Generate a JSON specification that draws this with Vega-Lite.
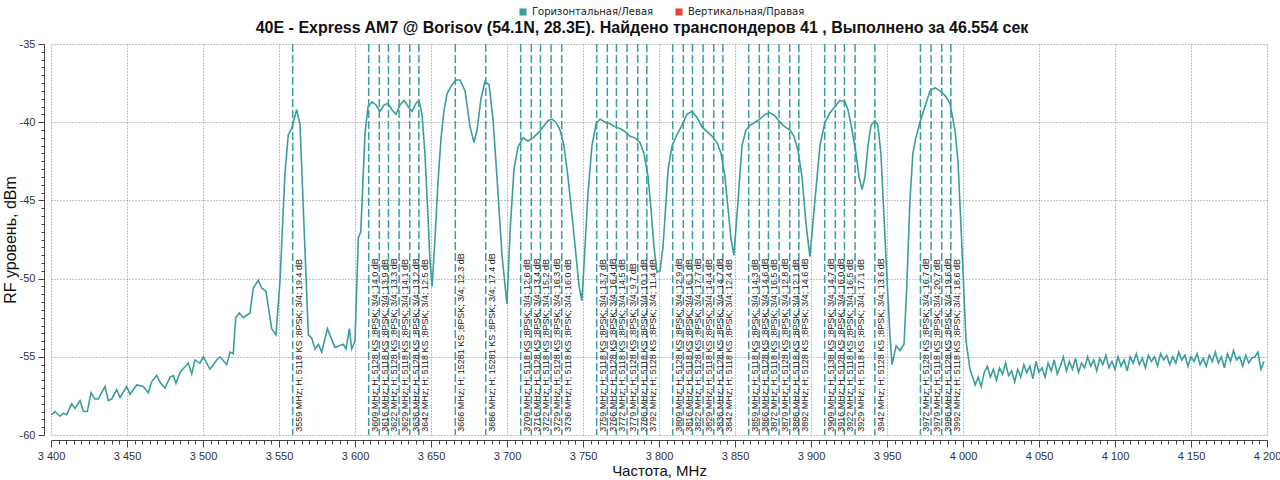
{
  "$schema": "https://vega.github.io/schema/vega-lite/v6.json",
  "width": 1216,
  "height": 391,
  "autosize": {"type": "none"},
  "padding": {"left": 51, "top": 44, "right": 13, "bottom": 45},
  "background": "white",
  "config": {"view": {"stroke": null}},
  "title": {
    "text": "40E - Express AM7 @ Borisov (54.1N, 28.3E). Найдено транспондеров 41 , Выполнено за 46.554 сек",
    "font": "Liberation Sans",
    "fontSize": 16,
    "fontWeight": "bold",
    "color": "#111111",
    "anchor": "middle",
    "baseline": "alphabetic",
    "offset": -42,
    "dx": -17
  },
  "datasets": {
    "spec": [
      {"f":3400.4,"v":-58.7},{"f":3402.6,"v":-58.5},{"f":3405.9,"v":-58.8},{"f":3408.1,"v":-58.6},{"f":3410.3,"v":-58.7},
      {"f":3413.6,"v":-58.0},{"f":3415.8,"v":-58.3},{"f":3419.1,"v":-57.8},{"f":3421.3,"v":-58.5},{"f":3423.9,"v":-58.5},
      {"f":3426.3,"v":-57.3},{"f":3428.9,"v":-57.7},{"f":3431.1,"v":-57.7},{"f":3435.5,"v":-56.9},{"f":3437.7,"v":-57.8},
      {"f":3439.9,"v":-57.7},{"f":3443.2,"v":-57.1},{"f":3445.4,"v":-57.6},{"f":3449.8,"v":-56.9},{"f":3452.0,"v":-57.4},
      {"f":3456.4,"v":-56.8},{"f":3460.7,"v":-56.9},{"f":3464.0,"v":-57.3},{"f":3466.2,"v":-56.6},{"f":3469.5,"v":-56.2},
      {"f":3472.2,"v":-56.7},{"f":3475.0,"v":-57.0},{"f":3478.3,"v":-56.3},{"f":3480.5,"v":-56.2},{"f":3482.2,"v":-56.7},
      {"f":3484.9,"v":-56.0},{"f":3490.3,"v":-55.4},{"f":3492.6,"v":-56.1},{"f":3494.7,"v":-55.2},{"f":3498.0,"v":-55.4},
      {"f":3500.2,"v":-55.0},{"f":3504.6,"v":-55.8},{"f":3509.0,"v":-55.2},{"f":3511.2,"v":-55.0},{"f":3515.6,"v":-55.5},
      {"f":3517.8,"v":-54.7},{"f":3519.9,"v":-54.8},{"f":3521.5,"v":-52.5},{"f":3523.9,"v":-52.2},{"f":3526.5,"v":-52.5},
      {"f":3530.9,"v":-52.2},{"f":3533.1,"v":-50.6},{"f":3536.4,"v":-50.1},{"f":3538.6,"v":-50.6},{"f":3541.4,"v":-50.8},
      {"f":3545.2,"v":-53.2},{"f":3548.0,"v":-53.6},{"f":3550.7,"v":-50.1},{"f":3553.9,"v":-43.3},{"f":3556.1,"v":-40.8},
      {"f":3558.3,"v":-40.4},{"f":3561.6,"v":-39.2},{"f":3563.8,"v":-40.1},{"f":3569.3,"v":-53.6},{"f":3571.5,"v":-53.8},
      {"f":3573.7,"v":-54.5},{"f":3575.9,"v":-54.2},{"f":3578.1,"v":-54.7},{"f":3581.8,"v":-53.2},{"f":3586.8,"v":-54.4},
      {"f":3592.3,"v":-54.2},{"f":3594.1,"v":-54.5},{"f":3596.3,"v":-53.2},{"f":3597.8,"v":-54.5},{"f":3600.0,"v":-54.0},
      {"f":3602.2,"v":-47.4},{"f":3603.8,"v":-47.0},{"f":3606.6,"v":-40.7},{"f":3608.6,"v":-39.0},{"f":3611.2,"v":-38.7},
      {"f":3613.8,"v":-38.9},{"f":3616.4,"v":-39.3},{"f":3619.1,"v":-38.9},{"f":3621.7,"v":-38.8},{"f":3624.3,"v":-39.2},
      {"f":3627.0,"v":-39.5},{"f":3629.6,"v":-38.9},{"f":3632.2,"v":-38.6},{"f":3634.9,"v":-39.0},{"f":3637.5,"v":-39.3},
      {"f":3640.1,"v":-38.8},{"f":3642.1,"v":-38.6},{"f":3644.1,"v":-39.5},{"f":3646.0,"v":-42.0},{"f":3648.0,"v":-46.0},
      {"f":3649.3,"v":-48.8},{"f":3650.7,"v":-50.5},{"f":3652.6,"v":-47.5},{"f":3654.5,"v":-44.0},{"f":3656.6,"v":-41.0},
      {"f":3658.5,"v":-39.3},{"f":3660.5,"v":-38.2},{"f":3663.8,"v":-37.6},{"f":3666.4,"v":-37.3},{"f":3669.1,"v":-37.3},
      {"f":3672.4,"v":-38.0},{"f":3675.7,"v":-40.3},{"f":3678.3,"v":-41.3},{"f":3680.3,"v":-40.5},{"f":3682.9,"v":-38.5},
      {"f":3685.5,"v":-37.4},{"f":3688.2,"v":-37.6},{"f":3690.8,"v":-39.8},{"f":3693.4,"v":-43.5},{"f":3696.7,"v":-48.5},
      {"f":3699.3,"v":-51.0},{"f":3700.0,"v":-51.6},{"f":3702.0,"v":-47.0},{"f":3704.6,"v":-43.0},{"f":3707.2,"v":-41.6},
      {"f":3710.5,"v":-41.0},{"f":3713.8,"v":-41.2},{"f":3717.1,"v":-41.0},{"f":3720.4,"v":-40.7},{"f":3723.7,"v":-40.3},
      {"f":3727.0,"v":-39.9},{"f":3729.6,"v":-39.8},{"f":3732.2,"v":-40.0},{"f":3734.9,"v":-40.5},{"f":3737.5,"v":-41.5},
      {"f":3740.1,"v":-43.5},{"f":3742.8,"v":-46.0},{"f":3745.4,"v":-48.5},{"f":3747.4,"v":-50.5},{"f":3749.3,"v":-51.4},
      {"f":3751.3,"v":-48.0},{"f":3753.3,"v":-44.5},{"f":3755.9,"v":-41.5},{"f":3758.6,"v":-40.1},{"f":3761.2,"v":-39.8},
      {"f":3764.5,"v":-40.0},{"f":3767.8,"v":-40.1},{"f":3771.1,"v":-40.3},{"f":3774.3,"v":-40.4},{"f":3777.6,"v":-40.6},
      {"f":3780.9,"v":-40.9},{"f":3784.2,"v":-41.0},{"f":3787.5,"v":-41.3},{"f":3790.1,"v":-42.0},{"f":3792.8,"v":-43.5},
      {"f":3794.7,"v":-45.5},{"f":3796.7,"v":-48.0},{"f":3798.7,"v":-49.6},{"f":3800.7,"v":-49.5},{"f":3802.6,"v":-48.0},
      {"f":3804.0,"v":-46.0},{"f":3806.0,"v":-43.0},{"f":3808.6,"v":-41.5},{"f":3811.8,"v":-40.8},{"f":3815.1,"v":-40.2},
      {"f":3818.4,"v":-39.5},{"f":3821.7,"v":-39.3},{"f":3825.0,"v":-39.7},{"f":3828.3,"v":-40.3},{"f":3831.6,"v":-40.6},
      {"f":3834.9,"v":-40.9},{"f":3838.2,"v":-41.3},{"f":3840.8,"v":-42.0},{"f":3843.4,"v":-43.5},{"f":3845.4,"v":-45.5},
      {"f":3847.4,"v":-47.5},{"f":3849.3,"v":-48.5},{"f":3852.0,"v":-45.0},{"f":3854.6,"v":-41.5},{"f":3857.2,"v":-40.5},
      {"f":3859.9,"v":-40.2},{"f":3863.2,"v":-40.0},{"f":3866.4,"v":-39.8},{"f":3869.7,"v":-39.5},{"f":3873.0,"v":-39.4},
      {"f":3876.3,"v":-39.6},{"f":3879.6,"v":-40.0},{"f":3882.9,"v":-40.3},{"f":3886.2,"v":-40.5},{"f":3888.8,"v":-40.9},
      {"f":3891.4,"v":-41.8},{"f":3894.1,"v":-43.5},{"f":3896.7,"v":-46.5},{"f":3899.3,"v":-48.6},{"f":3902.6,"v":-45.0},
      {"f":3905.9,"v":-41.5},{"f":3909.2,"v":-40.0},{"f":3912.5,"v":-39.4},{"f":3915.8,"v":-39.0},{"f":3919.0,"v":-38.6},
      {"f":3922.4,"v":-38.7},{"f":3924.3,"v":-39.2},{"f":3927.0,"v":-40.5},{"f":3929.6,"v":-42.0},{"f":3931.6,"v":-43.5},
      {"f":3933.6,"v":-44.3},{"f":3935.5,"v":-43.5},{"f":3937.5,"v":-41.5},{"f":3939.5,"v":-40.2},{"f":3942.1,"v":-39.9},
      {"f":3944.0,"v":-40.2},{"f":3946.0,"v":-42.0},{"f":3948.0,"v":-46.0},{"f":3950.0,"v":-50.0},{"f":3951.9,"v":-53.5},
      {"f":3953.3,"v":-55.5},{"f":3956.0,"v":-54.3},{"f":3958.5,"v":-54.6},{"f":3961.2,"v":-54.2},{"f":3963.0,"v":-50.5},
      {"f":3965.1,"v":-45.0},{"f":3967.0,"v":-42.0},{"f":3969.0,"v":-41.0},{"f":3971.7,"v":-40.0},{"f":3975.0,"v":-39.0},
      {"f":3978.3,"v":-38.0},{"f":3981.6,"v":-37.8},{"f":3984.9,"v":-38.0},{"f":3988.2,"v":-38.3},{"f":3991.4,"v":-38.8},
      {"f":3994.7,"v":-40.5},{"f":3996.7,"v":-42.5},{"f":3999.3,"v":-48.0},{"f":4002.0,"v":-54.0},{"f":4004.6,"v":-55.8},
      {"f":4006,"v":-56.2},{"f":4008,"v":-56.8},{"f":4010,"v":-56.3},{"f":4012,"v":-56.9},{"f":4014,"v":-56.0},
      {"f":4016,"v":-55.6},{"f":4018,"v":-56.3},{"f":4020,"v":-55.8},{"f":4022,"v":-56.5},{"f":4024,"v":-55.7},
      {"f":4026,"v":-56.1},{"f":4028,"v":-55.4},{"f":4030,"v":-56.2},{"f":4032,"v":-55.9},{"f":4034,"v":-56.6},
      {"f":4036,"v":-55.8},{"f":4038,"v":-56.3},{"f":4040,"v":-55.5},{"f":4042,"v":-56.0},{"f":4044,"v":-55.6},
      {"f":4046,"v":-56.4},{"f":4048,"v":-55.3},{"f":4050,"v":-56.0},{"f":4052,"v":-55.7},{"f":4054,"v":-56.3},
      {"f":4056,"v":-55.4},{"f":4058,"v":-55.9},{"f":4060,"v":-55.2},{"f":4062,"v":-56.1},{"f":4064,"v":-55.6},
      {"f":4066,"v":-55.0},{"f":4068,"v":-55.9},{"f":4070,"v":-55.3},{"f":4072,"v":-55.8},{"f":4074,"v":-55.1},
      {"f":4076,"v":-56.0},{"f":4078,"v":-55.4},{"f":4080,"v":-55.7},{"f":4082,"v":-55.0},{"f":4084,"v":-55.6},
      {"f":4086,"v":-55.2},{"f":4088,"v":-55.9},{"f":4090,"v":-55.1},{"f":4092,"v":-55.5},{"f":4094,"v":-54.9},
      {"f":4096,"v":-55.7},{"f":4098,"v":-55.3},{"f":4100,"v":-55.8},{"f":4102,"v":-55.0},{"f":4104,"v":-55.6},
      {"f":4106,"v":-55.2},{"f":4108,"v":-55.9},{"f":4110,"v":-55.0},{"f":4112,"v":-55.4},{"f":4114,"v":-54.8},
      {"f":4116,"v":-55.5},{"f":4118,"v":-55.1},{"f":4120,"v":-55.7},{"f":4122,"v":-54.9},{"f":4124,"v":-55.3},
      {"f":4126,"v":-55.0},{"f":4128,"v":-55.6},{"f":4130,"v":-54.8},{"f":4132,"v":-55.2},{"f":4134,"v":-54.9},
      {"f":4136,"v":-55.5},{"f":4138,"v":-55.0},{"f":4140,"v":-55.4},{"f":4142,"v":-54.7},{"f":4144,"v":-55.2},
      {"f":4146,"v":-54.9},{"f":4148,"v":-55.6},{"f":4150,"v":-55.0},{"f":4152,"v":-55.3},{"f":4154,"v":-54.8},
      {"f":4156,"v":-55.5},{"f":4158,"v":-55.1},{"f":4160,"v":-55.6},{"f":4162,"v":-54.9},{"f":4164,"v":-55.3},
      {"f":4166,"v":-54.7},{"f":4168,"v":-55.4},{"f":4170,"v":-55.0},{"f":4172,"v":-55.7},{"f":4174,"v":-54.8},
      {"f":4176,"v":-55.3},{"f":4178,"v":-54.6},{"f":4180,"v":-55.2},{"f":4182,"v":-55.0},{"f":4184,"v":-55.6},
      {"f":4186,"v":-54.9},{"f":4188,"v":-55.4},{"f":4190,"v":-55.1},{"f":4192,"v":-55.0},{"f":4194,"v":-54.7},
      {"f":4196,"v":-55.8},{"f":4198,"v":-55.3}
    ],
    "tp": [
      {"f":3559,"label":"3559 MHz; H; 5118 KS ;8PSK; 3/4; 19.4 dB"},
      {"f":3609,"label":"3609 MHz; H; 5128 KS ;8PSK; 3/4; 14.0 dB"},
      {"f":3616,"label":"3616 MHz; H; 5118 KS ;8PSK; 3/4; 13.9 dB"},
      {"f":3622,"label":"3622 MHz; H; 5128 KS ;8PSK; 3/4; 13.3 dB"},
      {"f":3629,"label":"3629 MHz; H; 5118 KS ;8PSK; 3/4; 14.1 dB"},
      {"f":3636,"label":"3636 MHz; H; 5128 KS ;8PSK; 3/4; 13.2 dB"},
      {"f":3642,"label":"3642 MHz; H; 5118 KS ;8PSK; 3/4; 12.5 dB"},
      {"f":3666,"label":"3666 MHz; H; 15281 KS ;8PSK; 3/4; 12.3 dB"},
      {"f":3686,"label":"3686 MHz; H; 15281 KS ;8PSK; 3/4; 17.4 dB"},
      {"f":3709,"label":"3709 MHz; H; 5118 KS ;8PSK; 3/4; 12.6 dB"},
      {"f":3716,"label":"3716 MHz; H; 5128 KS ;8PSK; 3/4; 13.4 dB"},
      {"f":3722,"label":"3722 MHz; H; 5118 KS ;8PSK; 3/4; 15.2 dB"},
      {"f":3729,"label":"3729 MHz; H; 5128 KS ;8PSK; 3/4; 16.3 dB"},
      {"f":3736,"label":"3736 MHz; H; 5118 KS ;8PSK; 3/4; 16.0 dB"},
      {"f":3759,"label":"3759 MHz; H; 5118 KS ;8PSK; 3/4; 13.7 dB"},
      {"f":3766,"label":"3766 MHz; H; 5128 KS ;8PSK; 3/4; 16.4 dB"},
      {"f":3772,"label":"3772 MHz; H; 5118 KS ;8PSK; 3/4; 14.5 dB"},
      {"f":3779,"label":"3779 MHz; H; 5128 KS ;8PSK; 3/4; 9.7 dB"},
      {"f":3786,"label":"3786 MHz; H; 5118 KS ;8PSK; 3/4; 10.1 dB"},
      {"f":3792,"label":"3792 MHz; H; 5128 KS ;8PSK; 3/4; 11.4 dB"},
      {"f":3809,"label":"3809 MHz; H; 5128 KS ;8PSK; 3/4; 12.9 dB"},
      {"f":3816,"label":"3816 MHz; H; 5118 KS ;8PSK; 3/4; 16.1 dB"},
      {"f":3822,"label":"3822 MHz; H; 5128 KS ;8PSK; 3/4; 17.7 dB"},
      {"f":3829,"label":"3829 MHz; H; 5118 KS ;8PSK; 3/4; 14.4 dB"},
      {"f":3836,"label":"3836 MHz; H; 5128 KS ;8PSK; 3/4; 14.7 dB"},
      {"f":3842,"label":"3842 MHz; H; 5118 KS ;8PSK; 3/4; 12.4 dB"},
      {"f":3859,"label":"3859 MHz; H; 5118 KS ;8PSK; 3/4; 14.3 dB"},
      {"f":3866,"label":"3866 MHz; H; 5128 KS ;8PSK; 3/4; 14.6 dB"},
      {"f":3872,"label":"3872 MHz; H; 5118 KS ;8PSK; 3/4; 16.5 dB"},
      {"f":3879,"label":"3879 MHz; H; 5128 KS ;8PSK; 3/4; 12.8 dB"},
      {"f":3886,"label":"3886 MHz; H; 5118 KS ;8PSK; 3/4; 12.1 dB"},
      {"f":3892,"label":"3892 MHz; H; 5128 KS ;8PSK; 3/4; 14.6 dB"},
      {"f":3909,"label":"3909 MHz; H; 5138 KS ;8PSK; 3/4; 14.7 dB"},
      {"f":3916,"label":"3916 MHz; H; 5128 KS ;8PSK; 3/4; 16.0 dB"},
      {"f":3922,"label":"3922 MHz; H; 5118 KS ;8PSK; 3/4; 16.5 dB"},
      {"f":3929,"label":"3929 MHz; H; 5118 KS ;8PSK; 3/4; 17.1 dB"},
      {"f":3942,"label":"3942 MHz; H; 5128 KS ;8PSK; 3/4; 13.6 dB"},
      {"f":3972,"label":"3972 MHz; H; 5128 KS ;8PSK; 3/4; 16.7 dB"},
      {"f":3979,"label":"3979 MHz; H; 5118 KS ;8PSK; 3/4; 20.7 dB"},
      {"f":3986,"label":"3986 MHz; H; 5128 KS ;8PSK; 3/4; 19.6 dB"},
      {"f":3992,"label":"3992 MHz; H; 5118 KS ;8PSK; 3/4; 18.6 dB"}
    ]
  },
  "layer": [
    {
      "data": {"name": "tp"},
      "mark": {"type": "rule", "color": "#3a9e9a", "strokeWidth": 1.5, "strokeDash": [8, 3]},
      "encoding": {
        "x": {"field": "f", "type": "quantitative"}
      }
    },
    {
      "data": {"name": "tp"},
      "mark": {"type": "text", "angle": 270, "align": "left", "baseline": "middle", "dy": 6, "font": "Liberation Sans", "fontSize": 9, "color": "#222222"},
      "encoding": {
        "x": {"field": "f", "type": "quantitative"},
        "y": {"datum": -59.8, "type": "quantitative"},
        "text": {"field": "label"}
      }
    },
    {
      "data": {"name": "spec"},
      "mark": {"type": "line", "strokeWidth": 1.6, "clip": true},
      "encoding": {
        "x": {
          "field": "f", "type": "quantitative",
          "scale": {"domain": [3400, 4200], "nice": false, "zero": false},
          "axis": {
            "title": "Частота, MHz",
            "titleFont": "Liberation Sans", "titleFontSize": 15, "titleFontWeight": "normal", "titleColor": "#111111",
            "titlePadding": 2,
            "offset": 5,
            "tickCount": 1000,
            "values": [3400,3405,3410,3415,3420,3425,3430,3435,3440,3445,3450,3455,3460,3465,3470,3475,3480,3485,3490,3495,3500,3505,3510,3515,3520,3525,3530,3535,3540,3545,3550,3555,3560,3565,3570,3575,3580,3585,3590,3595,3600,3605,3610,3615,3620,3625,3630,3635,3640,3645,3650,3655,3660,3665,3670,3675,3680,3685,3690,3695,3700,3705,3710,3715,3720,3725,3730,3735,3740,3745,3750,3755,3760,3765,3770,3775,3780,3785,3790,3795,3800,3805,3810,3815,3820,3825,3830,3835,3840,3845,3850,3855,3860,3865,3870,3875,3880,3885,3890,3895,3900,3905,3910,3915,3920,3925,3930,3935,3940,3945,3950,3955,3960,3965,3970,3975,3980,3985,3990,3995,4000,4005,4010,4015,4020,4025,4030,4035,4040,4045,4050,4055,4060,4065,4070,4075,4080,4085,4090,4095,4100,4105,4110,4115,4120,4125,4130,4135,4140,4145,4150,4155,4160,4165,4170,4175,4180,4185,4190,4195,4200],
            "labelExpr": "datum.value % 50 === 0 ? replace(format(datum.value, ','), ',', ' ') : ''",
            "labelOverlap": false, "labelFlush": false, "labelBound": false,
            "labelFont": "Liberation Sans", "labelFontSize": 11, "labelColor": "#333333", "labelPadding": 3,
            "tickSize": {"condition": {"test": "datum.value % 50 === 0", "value": 7}, "value": 4},
            "tickColor": "#444444", "domainColor": "#444444",
            "grid": true,
            "gridColor": "#888888", "gridDash": [1, 2],
            "gridOpacity": {"condition": {"test": "datum.value % 50 === 0", "value": 1}, "value": 0}
          }
        },
        "y": {
          "field": "v", "type": "quantitative",
          "scale": {"domain": [-60, -35], "nice": false, "zero": false},
          "axis": {
            "title": "RF уровень, dBm",
            "titleFont": "Liberation Sans", "titleFontSize": 16, "titleFontWeight": "normal", "titleColor": "#111111",
            "titleX": -26,
            "offset": 7,
            "tickCount": 1000,
            "values": [-60,-59.5,-59,-58.5,-58,-57.5,-57,-56.5,-56,-55.5,-55,-54.5,-54,-53.5,-53,-52.5,-52,-51.5,-51,-50.5,-50,-49.5,-49,-48.5,-48,-47.5,-47,-46.5,-46,-45.5,-45,-44.5,-44,-43.5,-43,-42.5,-42,-41.5,-41,-40.5,-40,-39.5,-39,-38.5,-38,-37.5,-37,-36.5,-36,-35.5,-35],
            "labelExpr": "datum.value % 5 === 0 ? '' + datum.value : ''",
            "labelOverlap": false, "labelFlush": false, "labelBound": false,
            "labelFont": "Liberation Sans", "labelFontSize": 11, "labelColor": "#333333", "labelPadding": 3,
            "tickSize": {"condition": {"test": "datum.value % 5 === 0", "value": 6}, "value": 3},
            "tickColor": "#444444", "domainColor": "#444444",
            "grid": true,
            "gridColor": "#888888", "gridDash": [1, 2],
            "gridOpacity": {"condition": {"test": "datum.value % 5 === 0", "value": 1}, "value": 0}
          }
        },
        "color": {
          "datum": "Горизонтальная/Левая",
          "type": "nominal",
          "scale": {"domain": ["Горизонтальная/Левая", "Вертикальная/Правая"], "range": ["#3a9e9a", "#e8403f"]},
          "legend": {
            "title": null,
            "orient": "none",
            "legendX": 467,
            "legendY": -37,
            "padding": 0,
            "direction": "horizontal",
            "gridAlign": "none",
            "symbolType": "square",
            "symbolSize": 50,
            "labelFont": "DejaVu Sans",
            "labelFontSize": 10,
            "labelColor": "#222222",
            "columnPadding": 20,
            "encode": {
              "symbols": {
                "update": {
                  "fill": {"scale": "color", "field": "value"},
                  "fillOpacity": {"value": 1},
                  "strokeWidth": {"value": 0}
                }
              }
            }
          }
        }
      }
    }
  ]
}
